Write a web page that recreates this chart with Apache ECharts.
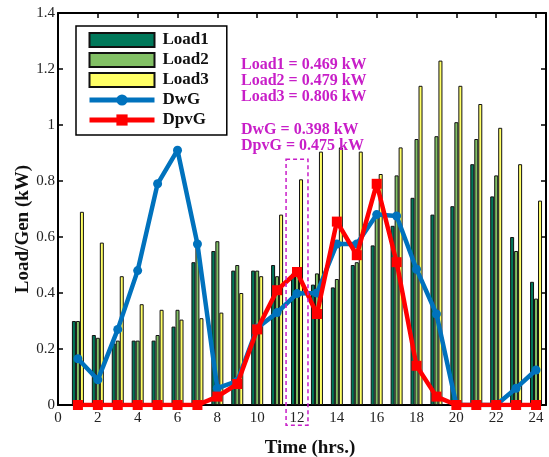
<!DOCTYPE html>
<html>
<head>
<meta charset="utf-8">
<script src="https://cdn.jsdelivr.net/npm/echarts@6/dist/echarts.min.js"></script>
<style>html,body{margin:0;padding:0;background:#fff;}#c{width:549px;height:457px;}</style>
</head>
<body>
<div id="c"></div>
<script>
const hours = [1,2,3,4,5,6,7,8,9,10,11,12,13,14,15,16,17,18,19,20,21,22,23,24];
const load1 = [0.30,0.25,0.22,0.23,0.23,0.28,0.51,0.55,0.48,0.48,0.50,0.469,0.43,0.42,0.50,0.57,0.64,0.74,0.68,0.71,0.86,0.745,0.60,0.44];
const load2 = [0.30,0.24,0.23,0.23,0.25,0.34,0.58,0.585,0.50,0.48,0.46,0.479,0.47,0.45,0.51,0.69,0.82,0.95,0.96,1.01,0.95,0.82,0.55,0.38];
const load3 = [0.69,0.58,0.46,0.36,0.34,0.305,0.31,0.33,0.40,0.46,0.68,0.806,0.905,0.92,0.905,0.825,0.92,1.14,1.23,1.14,1.075,0.99,0.86,0.73];
const dwg   = [0.165,0.09,0.27,0.48,0.79,0.91,0.575,0.06,0.085,0.275,0.33,0.398,0.40,0.575,0.575,0.68,0.675,0.485,0.325,0,0,0,0.06,0.125];
const dpvg  = [0,0,0,0,0,0,0,0.03,0.075,0.27,0.41,0.475,0.325,0.655,0.535,0.79,0.51,0.14,0.03,0,0,0,0,0];
const seriesNames = ['Load1','Load2','Load3','DwG','DpvG'];
const notes = ['Load1 = 0.469 kW','Load2 = 0.479 kW','Load3 = 0.806 kW','DwG = 0.398 kW','DpvG = 0.475 kW'];
const boxX = [11.45, 12.55];
const boxY = [-0.072, 0.878];

const FONT = '"Liberation Serif", "Times New Roman", serif';
const pair = a => hours.map((h,i)=>[h,a[i]]);
const barStyle = c => ({color:c, borderColor:'#111', borderWidth:1});

const chart = echarts.init(document.getElementById('c'), null, {renderer:'canvas'});
const axisCommon = {
  type:'value',
  axisLine:{show:true, onZero:false, lineStyle:{color:'#000', width:2}},
  axisTick:{show:true, inside:true, length:5, lineStyle:{color:'#000', width:1.5}},
  splitLine:{show:false}
};
const option = {
  animation:false,
  backgroundColor:'#fff',
  grid:{left:58, right:2, top:13, bottom:52, containLabel:false},
  xAxis:[
    Object.assign({}, axisCommon, {min:0, max:24.5, interval:2, position:'bottom',
      axisLabel:{color:'#222', fontFamily:FONT, fontSize:15, margin:6,
        formatter:v => (v % 2 === 0 ? String(v) : '')}}),
    Object.assign({}, axisCommon, {min:0, max:24.5, interval:2, position:'top', axisLabel:{show:false}})
  ],
  yAxis:[
    Object.assign({}, axisCommon, {min:0, max:1.4, interval:0.2, position:'left',
      axisLabel:{color:'#222', fontFamily:FONT, fontSize:15, margin:3}}),
    Object.assign({}, axisCommon, {min:0, max:1.4, interval:0.2, position:'right', axisLabel:{show:false}})
  ],
  legend:{
    left:76, top:26, orient:'vertical',
    padding:[4,18,5,11],
    backgroundColor:'#fff', borderColor:'#000', borderWidth:1.5,
    itemWidth:65, itemHeight:14, itemGap:0,
    textStyle:{fontFamily:FONT, fontWeight:'bold', fontSize:17, color:'#111', lineHeight:20, padding:[0,0,0,3]},
    data:[
      {name:seriesNames[0], icon:'rect'},
      {name:seriesNames[1], icon:'rect'},
      {name:seriesNames[2], icon:'rect'},
      {name:seriesNames[3], lineStyle:{width:5, color:'#0072BD'}},
      {name:seriesNames[4], lineStyle:{width:5, color:'#FF0000'}}
    ]
  },
  series:[
    {name:seriesNames[0], type:'bar', data:pair(load1), barWidth:4, barGap:'0%', itemStyle:barStyle('#00785A')},
    {name:seriesNames[1], type:'bar', data:pair(load2), barWidth:4, barGap:'0%', itemStyle:barStyle('#82C065')},
    {name:seriesNames[2], type:'bar', data:pair(load3), barWidth:4, barGap:'0%', itemStyle:barStyle('#FFFF66')},
    {name:seriesNames[3], type:'line', data:pair(dwg), symbol:'circle', symbolSize:9,
      lineStyle:{color:'#0072BD', width:4.5}, itemStyle:{color:'#0072BD'}, z:5},
    {name:seriesNames[4], type:'line', data:pair(dpvg), symbol:'rect', symbolSize:10,
      lineStyle:{color:'#FF0000', width:4.5}, itemStyle:{color:'#FF0000'}, z:6}
  ]
};
chart.setOption(option);

const p1 = chart.convertToPixel({gridIndex:0}, [boxX[0], boxY[1]]);
const p2 = chart.convertToPixel({gridIndex:0}, [boxX[1], boxY[0]]);
const MAG = '#C81EC8';
const noteY = [65, 81, 97, 130, 146];
const graphics = [
  {type:'rect', shape:{x:p1[0], y:p1[1], width:p2[0]-p1[0], height:p2[1]-p1[1]},
    style:{fill:'none', stroke:MAG, lineWidth:1.5, lineDash:[4,3]}, z:100},
  {type:'text', x:310, y:448, style:{text:'Time (hrs.)', font:'bold 19px '+FONT, fill:'#111',
    textAlign:'center', textVerticalAlign:'middle', align:'center', verticalAlign:'middle'}, z:100},
  {type:'text', x:23, y:229, rotation:Math.PI/2, style:{text:'Load/Gen (kW)', font:'bold 19px '+FONT, fill:'#111',
    textAlign:'center', textVerticalAlign:'middle', align:'center', verticalAlign:'middle'}, z:100}
];
notes.forEach((t,i)=>{
  graphics.push({type:'text', x:241, y:noteY[i], style:{text:t, font:'bold 16px '+FONT, fill:MAG,
    textAlign:'left', textVerticalAlign:'middle', align:'left', verticalAlign:'middle'}, z:100});
});
chart.setOption({graphic:graphics});
</script>
</body>
</html>
